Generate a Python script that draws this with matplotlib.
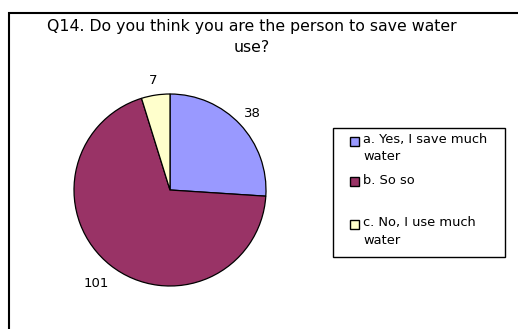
import matplotlib
matplotlib.use("Agg")
import numpy as np
import matplotlib.pyplot as plt
from matplotlib.patches import Rectangle

title = "Q14. Do you think you are the person to save water\nuse?"
categories = ["a. Yes, I save much\nwater", "b. So so", "c. No, I use much\nwater"]
values = [38, 101, 7]
colors = ["#9999FF", "#993366", "#FFFFCC"]
label_dist = [1.17, 1.24, 1.15]

W, H = 518, 329
fig = plt.figure(figsize=(W / 100, H / 100), dpi=100)
fig.patch.set_facecolor("white")

# outer chart border
fig.patches.append(Rectangle((9 / W, -0.05), 1.2, (H - 12.5) / H + 0.05,
                             transform=fig.transFigure, fill=False,
                             edgecolor="black", linewidth=1.5))

fig.text(252 / W, 1 - 37 / H, title, ha="center", va="center",
         fontsize=11.3, linespacing=1.45, family="DejaVu Sans")

cx, cy, r = 170, 190, 96
lim = 1.3
size = r * lim * 2
ax = fig.add_axes([(cx - r * lim) / W, (H - cy - r * lim) / H, size / W, size / H])
wedges, _ = ax.pie(values, colors=colors, startangle=90, counterclock=False,
                   wedgeprops=dict(edgecolor="black", linewidth=0.9))
for w, v, d in zip(wedges, values, label_dist):
    ang = np.deg2rad((w.theta1 + w.theta2) / 2)
    ax.text(d * np.cos(ang), d * np.sin(ang), str(v), ha="center", va="center",
            fontsize=9.5)
ax.set_xlim(-lim, lim)
ax.set_ylim(-lim, lim)
ax.set_aspect("equal")

# legend box
lx0, ly0, lx1, ly1 = 333, 128, 505, 257
fig.patches.append(Rectangle((lx0 / W, 1 - ly1 / H), (lx1 - lx0) / W, (ly1 - ly0) / H,
                             transform=fig.transFigure, fill=False,
                             edgecolor="black", linewidth=1.0))
entry_y = [141, 182, 224]
for lab, col, y in zip(categories, colors, entry_y):
    fig.patches.append(Rectangle((350 / W, 1 - (y + 4.5) / H), 9 / W, 9 / H,
                                 transform=fig.transFigure, facecolor=col,
                                 edgecolor="black", linewidth=1.0))
    fig.text(363 / W, 1 - (y - 8) / H, lab, ha="left", va="top",
             fontsize=9.4, linespacing=1.45)

fig.savefig("out.png", dpi=100)
